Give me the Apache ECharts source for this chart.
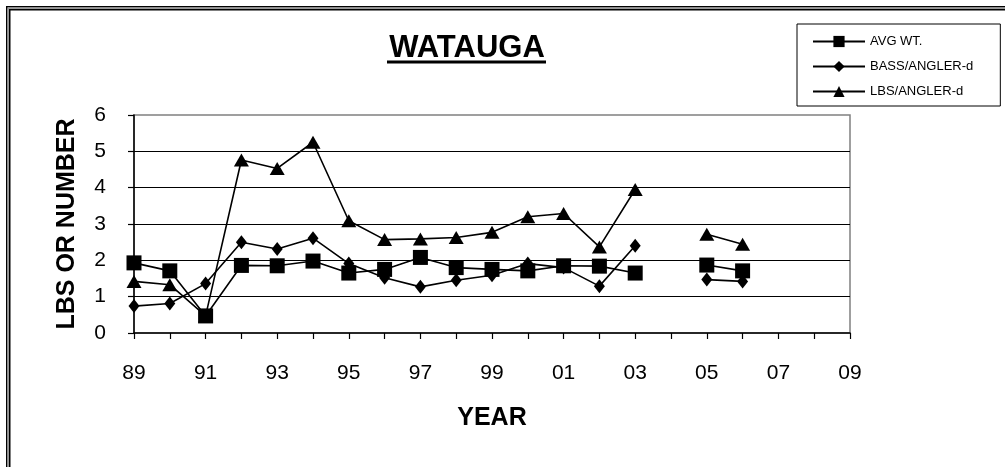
<!DOCTYPE html>
<html>
<head>
<meta charset="utf-8">
<title>WATAUGA</title>
<script src="https://cdn.jsdelivr.net/npm/echarts@6/dist/echarts.min.js"></script>
<style>
  html, body { margin: 0; padding: 0; background: #fff; }
  #chart { width: 1005px; height: 467px; }
</style>
</head>
<body>
<div id="chart"></div>
<script>
// 年份（89 - 09）
const years = ['89', '90', '91', '92', '93', '94', '95', '96', '97', '98', '99',
  '00', '01', '02', '03', '04', '05', '06', '07', '08', '09'];

// 各系列数据（null 表示没有数据）
const avgWt = [1.93, 1.71, 0.47, 1.86, 1.85, 1.98, 1.65, 1.75, 2.08, 1.80, 1.75,
  1.71, 1.85, 1.84, 1.65, null, 1.87, 1.71, null, null, null];
const bassPerAngler = [0.74, 0.81, 1.36, 2.50, 2.31, 2.61, 1.91, 1.52, 1.27, 1.45, 1.59,
  1.91, 1.80, 1.29, 2.40, null, 1.47, 1.42, null, null, null];
const lbsPerAngler = [1.42, 1.33, 0.47, 4.76, 4.53, 5.25, 3.09, 2.57, 2.59, 2.63, 2.77,
  3.20, 3.29, 2.37, 3.95, null, 2.72, 2.44, null, null, null];

const seriesNames = ['AVG WT.', 'BASS/ANGLER-d', 'LBS/ANGLER-d'];
const yTicks = [0, 6, 1]; // min, max, interval

const chart = echarts.init(document.getElementById('chart'));
const fontFamily = '"Liberation Sans", Arial, sans-serif';

// 通用的折线系列配置
function makeSeries(name, data, symbol, size) {
  return {
    name: name,
    type: 'line',
    data: data,
    symbol: symbol,
    symbolSize: size,
    connectNulls: false,
    showAllSymbol: true,
    lineStyle: { color: '#000', width: 1.6 },
    itemStyle: { color: '#000' },
    emphasis: { disabled: true },
    animation: false
  };
}

const option = {
  backgroundColor: '#fff',
  animation: false,
  textStyle: { fontFamily: fontFamily },
  title: {
    text: 'WATAUGA',
    left: 462,
    top: 28,
    textAlign: 'center',
    textStyle: { fontSize: 31, fontWeight: 'bold', color: '#000', fontFamily: fontFamily }
  },
  legend: {
    orient: 'vertical',
    left: 797,
    top: 24,
    padding: [11, 27, 8, 15],
    borderColor: '#000',
    borderWidth: 1,
    itemWidth: 52,
    itemHeight: 14,
    itemGap: 12,
    textStyle: { fontSize: 13, color: '#000' },
    data: seriesNames
  },
  grid: {
    left: 134,
    right: 155,
    top: 115,
    bottom: 134,
    show: true,
    borderColor: '#808080',
    borderWidth: 1.5,
    backgroundColor: '#fff'
  },
  xAxis: {
    type: 'category',
    data: years,
    boundaryGap: false,
    name: 'YEAR',
    nameLocation: 'middle',
    nameGap: 73,
    nameTextStyle: { fontSize: 25, fontWeight: 'bold', color: '#000' },
    axisLine: { lineStyle: { color: '#000', width: 1.5 } },
    axisTick: { interval: 0, length: 6, lineStyle: { color: '#000', width: 1.2 } },
    axisLabel: { interval: 1, margin: 30, fontSize: 21, color: '#000' },
    splitLine: { show: false }
  },
  yAxis: {
    type: 'value',
    min: yTicks[0],
    max: yTicks[1],
    interval: yTicks[2],
    name: 'LBS OR NUMBER',
    nameLocation: 'middle',
    nameGap: 54,
    nameTextStyle: { fontSize: 25, fontWeight: 'bold', color: '#000' },
    axisLine: { show: true, lineStyle: { color: '#000', width: 1.5 } },
    axisTick: { show: true, length: 6, lineStyle: { color: '#000', width: 1.2 } },
    axisLabel: { margin: 28, fontSize: 21, color: '#000' },
    splitLine: { show: true, showMinLine: false, showMaxLine: false, lineStyle: { color: '#000', width: 1.2 } }
  },
  graphic: [
    // 标题下划线
    { type: 'rect', shape: { x: 387, y: 60.5, width: 159, height: 3 }, style: { fill: '#000' } },
    // 外框（上、左双线）
    { type: 'rect', shape: { x: 6, y: 6, width: 999, height: 1.5 }, style: { fill: '#000' } },
    { type: 'rect', shape: { x: 7.5, y: 7.5, width: 998, height: 1.5 }, style: { fill: '#999' } },
    { type: 'rect', shape: { x: 9, y: 9, width: 996, height: 1.5 }, style: { fill: '#000' } },
    { type: 'rect', shape: { x: 6, y: 6, width: 1.5, height: 461 }, style: { fill: '#000' } },
    { type: 'rect', shape: { x: 7.5, y: 7.5, width: 1.5, height: 460 }, style: { fill: '#999' } },
    { type: 'rect', shape: { x: 9, y: 9, width: 1.5, height: 458 }, style: { fill: '#000' } }
  ],
  series: [
    makeSeries(seriesNames[0], avgWt, 'rect', 15),
    makeSeries(seriesNames[1], bassPerAngler, 'diamond', [11, 14]),
    makeSeries(seriesNames[2], lbsPerAngler, 'triangle', [15, 13])
  ]
};

chart.setOption(option);
</script>
</body>
</html>
